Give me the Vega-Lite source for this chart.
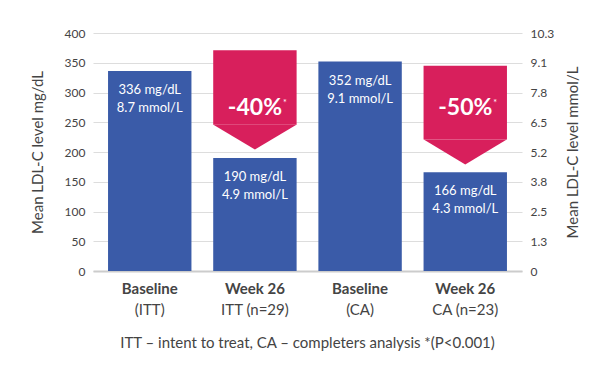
{
  "$schema": "https://vega.github.io/schema/vega-lite/v6.json",
  "width": 615,
  "height": 370,
  "autosize": {"type": "fit", "contains": "padding"},
  "padding": {"left": 30, "right": 34, "top": 27, "bottom": 19},
  "background": "white",
  "config": {
    "font": "Lato",
    "view": {"stroke": null},
    "axis": {
      "labelColor": "#444444",
      "labelFontSize": 12,
      "titleColor": "#444444",
      "titleFontSize": 15,
      "titleFontWeight": "normal",
      "ticks": false,
      "domain": false,
      "labelPadding": 8,
      "gridColor": "#dddddd"
    }
  },
  "title": {
    "text": "ITT – intent to treat, CA – completers analysis *(P<0.001)",
    "orient": "bottom",
    "anchor": "middle",
    "fontSize": 15,
    "fontWeight": "normal",
    "color": "#444444",
    "offset": 18
  },
  "data": {
    "values": [
      {"key": "b_itt", "line1": "Baseline", "line2": "(ITT)", "mg": 336, "label": "336 mg/dL\n8.7 mmol/L"},
      {"key": "w_itt", "line1": "Week 26", "line2": "ITT (n=29)", "mg": 190, "label": "190 mg/dL\n4.9 mmol/L", "arrowTop": 371, "arrowBottom": 246, "pct": "-40%"},
      {"key": "b_ca", "line1": "Baseline", "line2": "(CA)", "mg": 352, "label": "352 mg/dL\n9.1 mmol/L"},
      {"key": "w_ca", "line1": "Week 26", "line2": "CA (n=23)", "mg": 166, "label": "166 mg/dL\n4.3 mmol/L", "arrowTop": 345, "arrowBottom": 221, "pct": "-50%"}
    ]
  },
  "encoding": {
    "x": {
      "field": "key",
      "type": "nominal",
      "sort": null,
      "scale": {"paddingInner": 0.207, "paddingOuter": 0.143},
      "axis": {"labels": false, "ticks": false, "domain": true, "domainColor": "#cccccc", "domainWidth": 2, "title": null, "grid": false}
    }
  },
  "layer": [
    {
      "mark": {"type": "bar", "color": "#3a5ba8"},
      "encoding": {
        "y": {
          "field": "mg",
          "type": "quantitative",
          "scale": {"domain": [0, 400]},
          "axis": {"title": "Mean LDL-C level mg/dL", "values": [0, 50, 100, 150, 200, 250, 300, 350, 400], "grid": true, "orient": "left", "titlePadding": 19}
        }
      }
    },
    {
      "mark": {"type": "text", "color": "white", "fontSize": 13, "baseline": "top", "dy": 13, "lineBreak": "\n", "lineHeight": 18},
      "encoding": {
        "y": {"field": "mg", "type": "quantitative", "axis": null},
        "text": {"field": "label"}
      }
    },
    {
      "transform": [{"filter": "datum.pct != null"}],
      "mark": {"type": "bar", "color": "#d81f5c"},
      "encoding": {
        "y": {
          "field": "arrowTop",
          "type": "quantitative",
          "axis": {
            "orient": "right",
            "title": "Mean LDL-C level mmol/L",
            "titleAngle": 270,
            "titleBaseline": "top",
            "titlePadding": 12,
            "values": [0, 50, 100, 150, 200, 250, 300, 350, 400],
            "grid": false,
            "labelExpr": "['0','1.3','2.5','3.8','5.2','6.5','7.8','9.1','10.3'][round(datum.value/50)]"
          }
        },
        "y2": {"field": "arrowBottom"}
      }
    },
    {
      "transform": [{"filter": "datum.pct != null"}],
      "mark": {"type": "point", "shape": "M-1,0L1,0L0,0.6Z", "size": 6889, "filled": true, "opacity": 1, "color": "#d81f5c"},
      "encoding": {
        "y": {"field": "arrowBottom", "type": "quantitative", "axis": null}
      }
    },
    {
      "transform": [{"filter": "datum.pct != null"}],
      "mark": {"type": "text", "color": "white", "fontSize": 23, "fontWeight": "bold", "baseline": "middle", "dy": 2},
      "encoding": {
        "y": {"datum": 277, "type": "quantitative", "axis": null},
        "text": {"field": "pct"}
      }
    },
    {
      "transform": [{"filter": "datum.pct != null"}],
      "mark": {"type": "text", "color": "white", "fontSize": 9, "baseline": "middle", "dx": 30, "dy": -3},
      "encoding": {
        "y": {"datum": 277, "type": "quantitative", "axis": null},
        "text": {"value": "*"}
      }
    },
    {
      "mark": {"type": "text", "color": "#444444", "fontSize": 15, "fontWeight": "bold", "baseline": "middle", "dy": 18},
      "encoding": {
        "y": {"datum": 0, "type": "quantitative", "axis": null},
        "text": {"field": "line1"}
      }
    },
    {
      "mark": {"type": "text", "color": "#444444", "fontSize": 15, "baseline": "middle", "dy": 39},
      "encoding": {
        "y": {"datum": 0, "type": "quantitative", "axis": null},
        "text": {"field": "line2"}
      }
    }
  ],
  "resolve": {"axis": {"y": "independent"}}
}
